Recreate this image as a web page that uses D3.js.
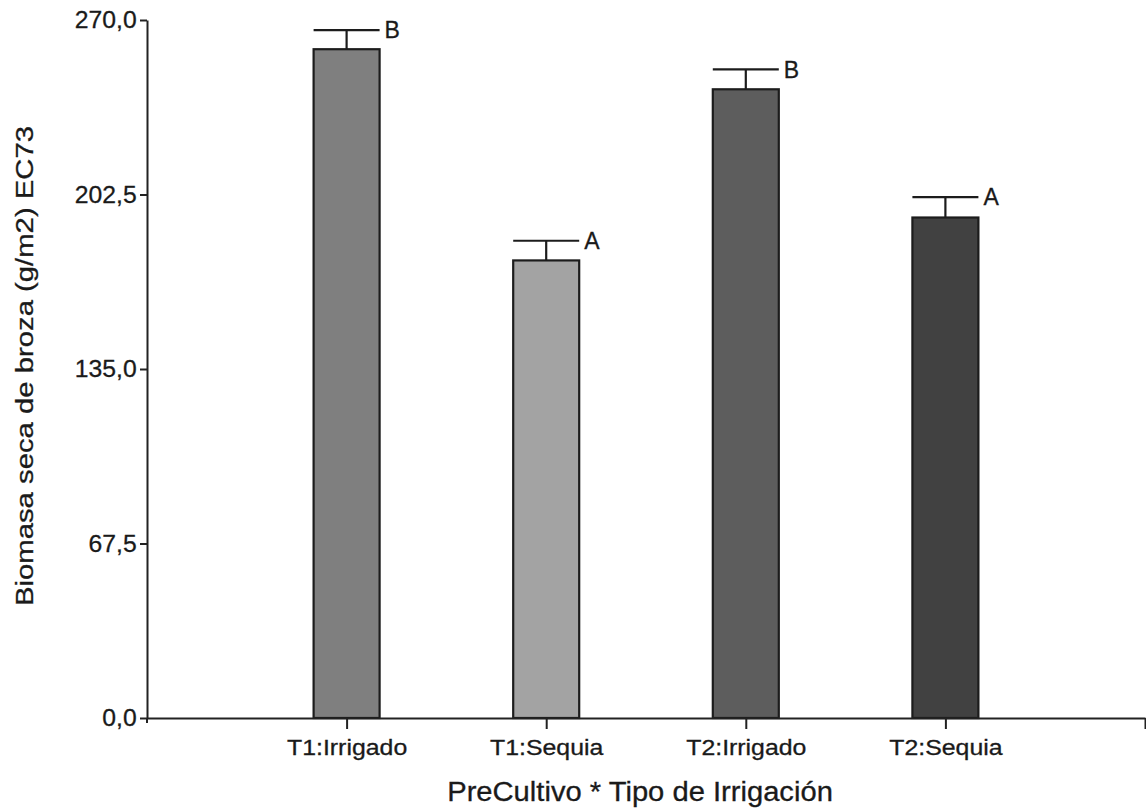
<!DOCTYPE html>
<html><head><meta charset="utf-8">
<script src="https://cdn.jsdelivr.net/npm/d3@7"></script>
<style>body{margin:0;background:#fff}</style>
</head><body><svg id="c" width="1146" height="809"></svg>
<script>
const categories = ["T1:Irrigado", "T1:Sequia", "T2:Irrigado", "T2:Sequia"];
const means = [258.7, 177.0, 243.2, 193.6];
const errors = [7.4, 7.6, 7.7, 7.9];
const letters = ["B", "A", "B", "A"];
const barColors = ["#7f7f7f", "#a3a3a3", "#5d5d5d", "#414141"];
const yTicks = [0, 67.5, 135, 202.5, 270];
const yTickLabels = ["0,0", "67,5", "135,0", "202,5", "270,0"];
const xTitle = "PreCultivo * Tipo de Irrigación";
const yTitle = "Biomasa seca de broza (g/m2) EC73";

const svg = d3.select("#c");
const font = "'Liberation Sans', Arial, sans-serif";
const ink = "#1a1a1a";

const x = d3.scaleLinear().domain([0, 5]).range([147, 1145]);
const y = d3.scaleLinear().domain([0, 270]).range([718, 20]);
const bw = 66;

// bars
svg.append("g").selectAll("rect").data(means).join("rect")
  .attr("x", (d, i) => x(i + 1) - bw / 2)
  .attr("y", d => y(d))
  .attr("width", bw)
  .attr("height", d => y(0) - y(d))
  .attr("fill", (d, i) => barColors[i])
  .attr("stroke", "#1c1c1c").attr("stroke-width", 2.2);

// error bars
const eb = svg.append("g").attr("stroke", "#1c1c1c").attr("stroke-width", 2.2);
eb.selectAll("line.v").data(means).join("line").attr("class", "v")
  .attr("x1", (d, i) => x(i + 1)).attr("x2", (d, i) => x(i + 1))
  .attr("y1", d => y(d)).attr("y2", (d, i) => y(d + errors[i]));
eb.selectAll("line.c").data(means).join("line").attr("class", "c")
  .attr("x1", (d, i) => x(i + 1) - bw / 2).attr("x2", (d, i) => x(i + 1) + bw / 2)
  .attr("y1", (d, i) => y(d + errors[i])).attr("y2", (d, i) => y(d + errors[i]));

// letters
svg.append("g").selectAll("text").data(means).join("text")
  .attr("x", (d, i) => x(i + 1) + bw / 2 + 5)
  .attr("y", (d, i) => y(d + errors[i]))
  .attr("dy", "0.36em")
  .attr("font-family", font).attr("font-size", 23).attr("fill", ink)
  .attr("stroke", ink).attr("stroke-width", 0.3)
  .text((d, i) => letters[i]);

// y axis
const ya = svg.append("g").attr("transform", `translate(${x(0)},0)`)
  .call(d3.axisLeft(y).tickValues(yTicks).tickFormat((d, i) => yTickLabels[i]).tickSize(7).tickSizeOuter(0).tickPadding(3));
ya.select(".domain").attr("stroke", "#222").attr("stroke-width", 2);
ya.selectAll(".tick line").attr("stroke", "#222").attr("stroke-width", 2);
ya.selectAll(".tick text").attr("font-family", font).attr("font-size", 24).attr("fill", ink)
  .attr("stroke", ink).attr("stroke-width", 0.3)
  .attr("transform", "scale(1.03,1)");
svg.append("line").attr("x1", x(0)).attr("x2", x(0)).attr("y1", y(0)).attr("y2", y(0) + 5)
  .attr("stroke", "#222").attr("stroke-width", 2);

// x axis
const xa = svg.append("g").attr("transform", `translate(0,${y(0)})`)
  .call(d3.axisBottom(x).tickValues([1, 2, 3, 4, 5]).tickFormat(i => categories[i - 1] || "").tickSize(11).tickSizeOuter(0).tickPadding(10));
xa.select(".domain").attr("stroke", "#222").attr("stroke-width", 2);
xa.selectAll(".tick line").attr("stroke", "#222").attr("stroke-width", 2);
xa.selectAll(".tick text").attr("font-family", font).attr("font-size", 22).attr("fill", ink)
  .attr("stroke", ink).attr("stroke-width", 0.3)
  .attr("transform", "scale(1.13,1)");

// titles
svg.append("text").attr("transform", `translate(${x(2.47)},801) scale(1.08,1)`)
  .attr("text-anchor", "middle").attr("font-family", font).attr("font-size", 27).attr("fill", ink)
  .attr("stroke", ink).attr("stroke-width", 0.3)
  .text(xTitle);
svg.append("text").attr("transform", `translate(33,${(y(0) + y(270)) / 2 - 3}) rotate(-90) scale(1.22,1)`)
  .attr("text-anchor", "middle").attr("font-family", font).attr("font-size", 24).attr("fill", ink)
  .attr("stroke", ink).attr("stroke-width", 0.3)
  .text(yTitle);
</script></body></html>
